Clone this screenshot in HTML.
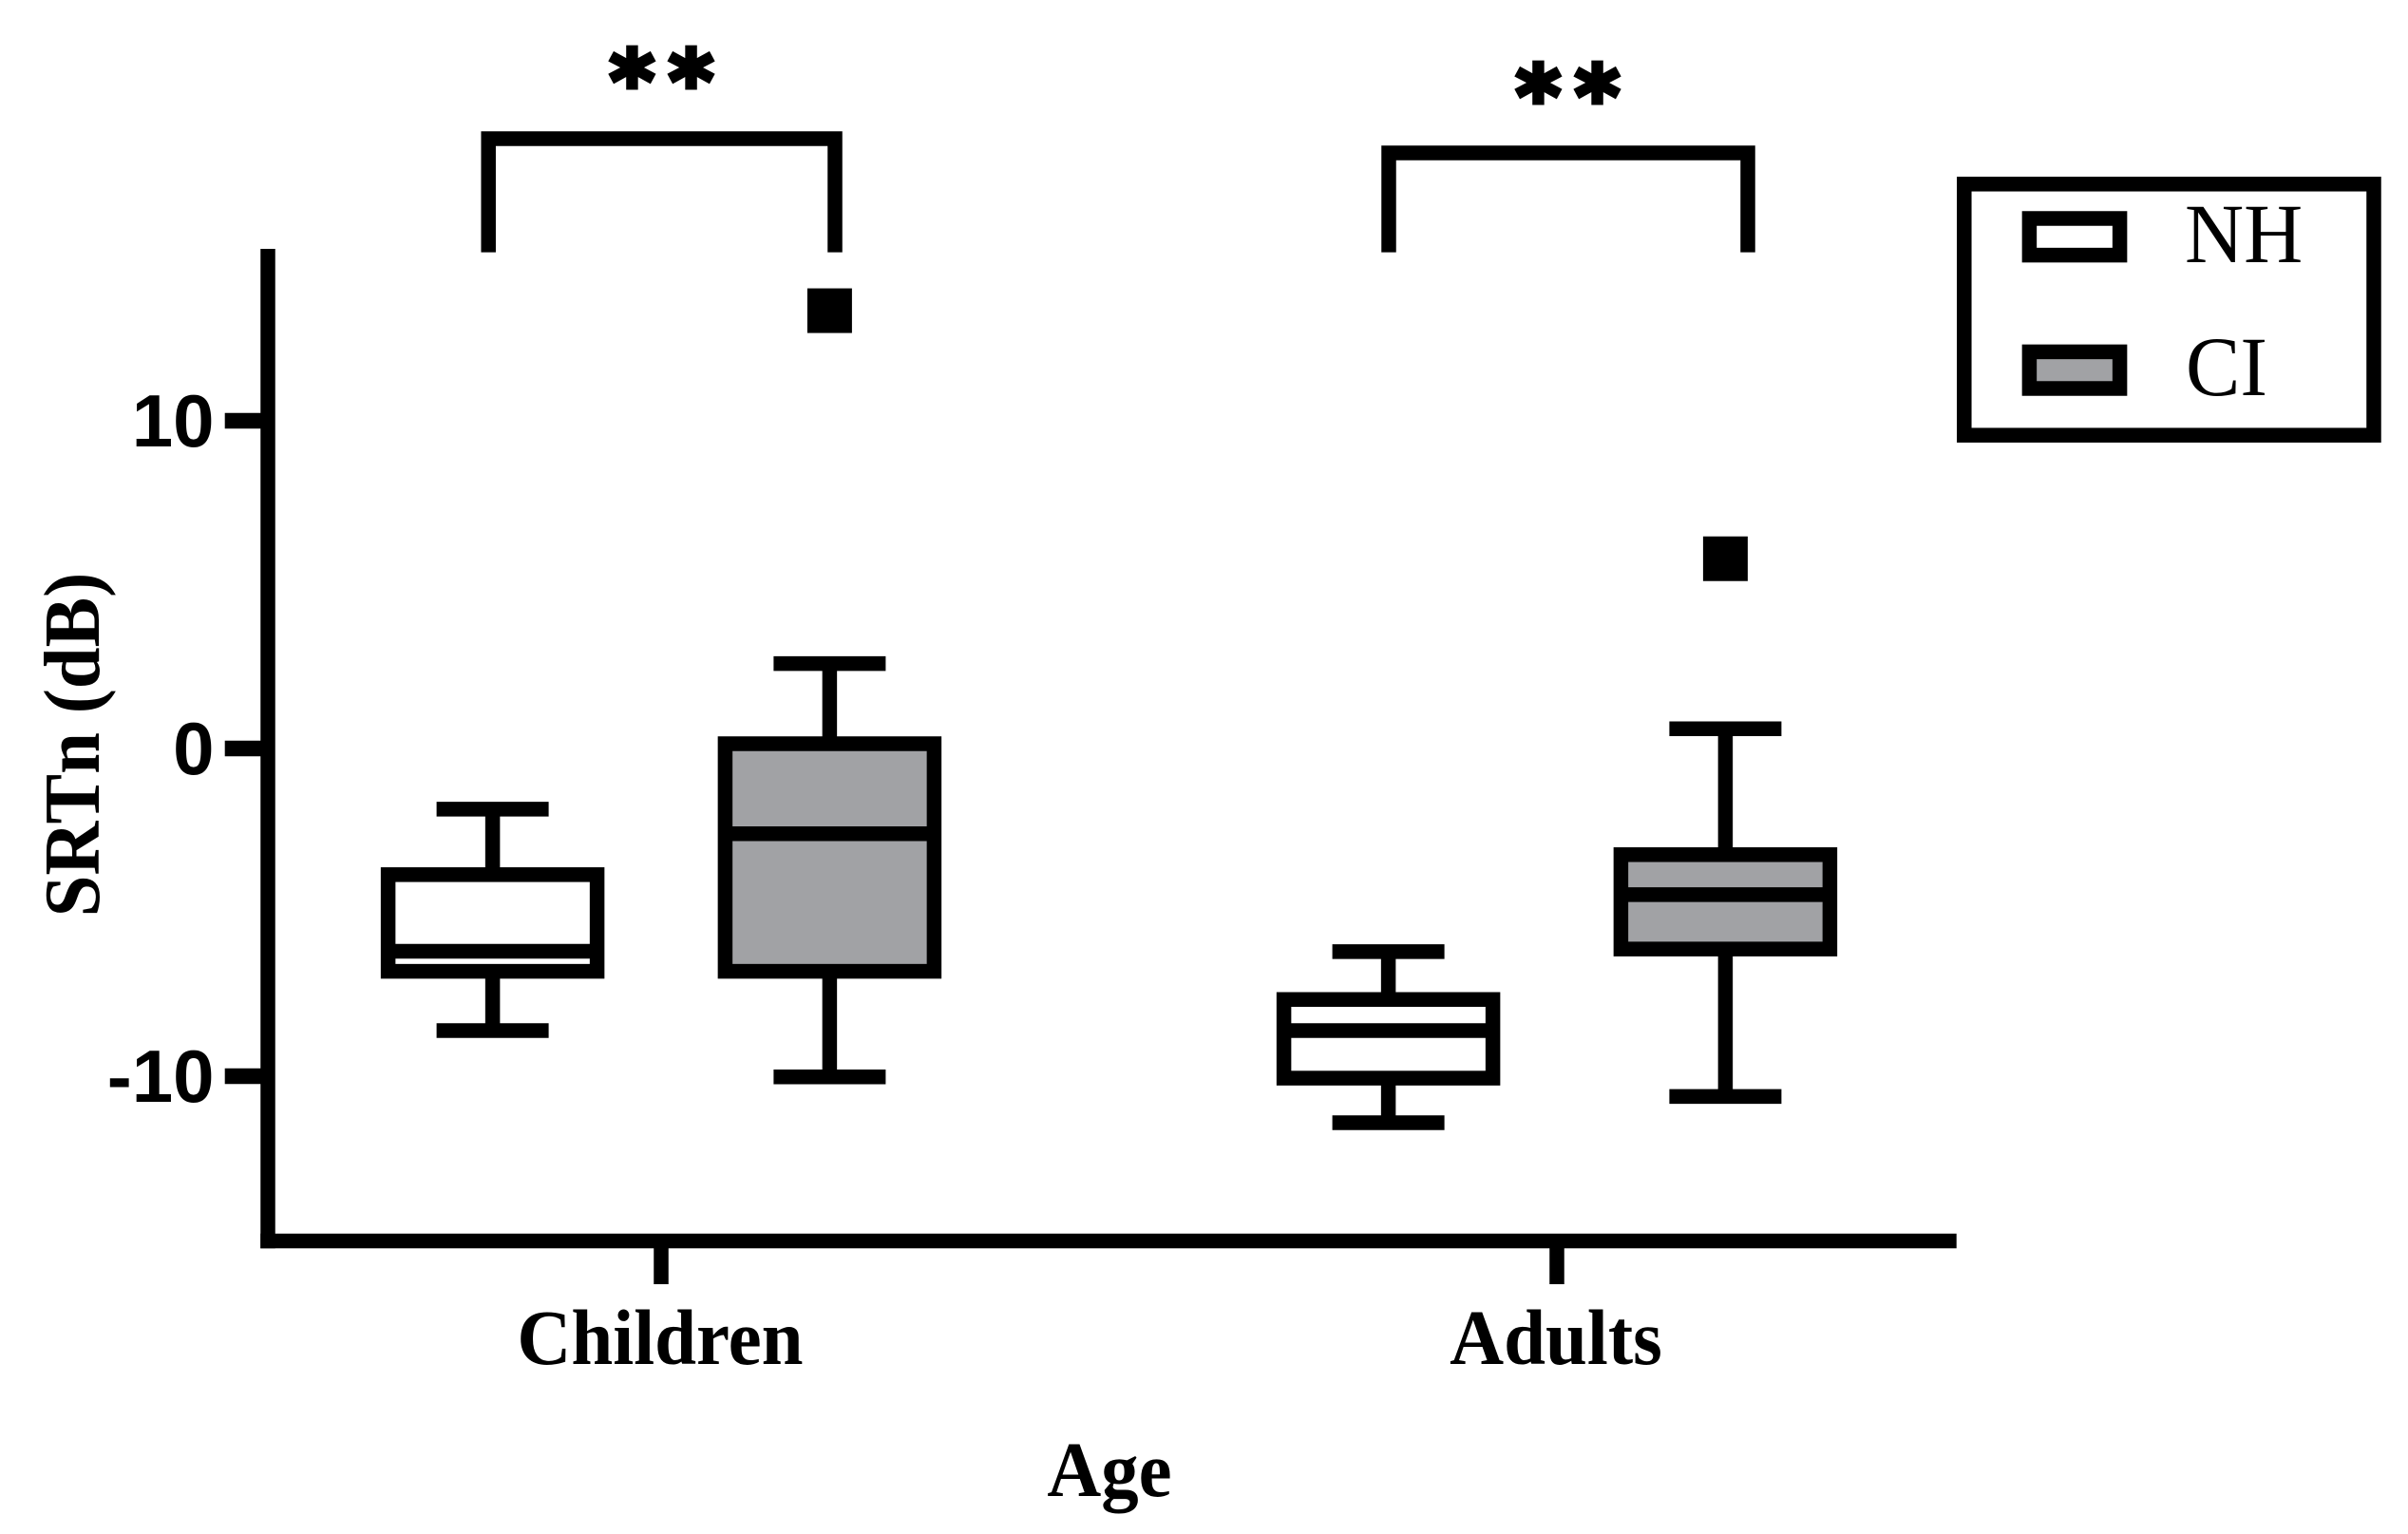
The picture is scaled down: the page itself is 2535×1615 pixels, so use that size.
<!DOCTYPE html>
<html lang="en">
<head>
<meta charset="utf-8">
<title>SRTn by age and hearing group</title>
<style>
html,body{margin:0;padding:0;background:#fff;}
svg{display:block;}
.serif{font-family:"Liberation Serif",serif;}
.sans{font-family:"Liberation Sans",sans-serif;}
.stars{font-family:"DejaVu Sans",sans-serif;letter-spacing:15px;stroke:#000;stroke-width:5px;}
</style>
</head>
<body>
<svg id="chart" xmlns="http://www.w3.org/2000/svg" width="2535" height="1615" viewBox="0 0 2535 1615">
  <rect x="0" y="0" width="2535" height="1615" fill="#fff"/>
  <g id="marks"></g>
  <g id="axes"></g>

  <text class="serif" font-weight="700" font-size="78" text-anchor="middle" transform="translate(104 784) rotate(-90) scale(1.01 1.07)">SRTn (dB)</text>
  <text class="serif" font-weight="700" font-size="78" text-anchor="middle" transform="translate(1168 1575) scale(1.01 1.06)">Age</text>

  <g>
    <path d="M514.2 265.6V146H879V265.6" fill="none" stroke="#000" stroke-width="15.5"/>
    <text class="stars" font-weight="700" font-size="90" text-anchor="middle" x="704" y="117">**</text>
  </g>
  <g>
    <path d="M1462 265.6V161H1840V265.6" fill="none" stroke="#000" stroke-width="15.5"/>
    <text class="stars" font-weight="700" font-size="90" text-anchor="middle" x="1658" y="133">**</text>
  </g>

  <g>
    <rect x="2067.8" y="193.8" width="431.2" height="264.4" fill="#fff" stroke="#000" stroke-width="15.5"/>
    <rect x="2136.4" y="230" width="95.2" height="38.6" fill="#fff" stroke="#000" stroke-width="15.5"/>
    <text class="serif" font-size="86" transform="translate(2300 276) scale(1 1.03)">NH</text>
    <rect x="2136.4" y="370.4" width="95.2" height="38.6" fill="#a1a2a5" stroke="#000" stroke-width="15.5"/>
    <text class="serif" font-size="86" transform="translate(2301 416) scale(1 1.03)">CI</text>
  </g>
</svg>
<script>
const categories = ['Children', 'Adults'];
const groups = ['NH', 'CI'];
const yTickValues = [10, 0, -10];
const yTickLabels = ['10', '0', '-10'];
const whiskerHigh = [[-1.85, 2.59], [-6.20, 0.60]];
const boxTop = [[-3.85, 0.145], [-7.66, -3.24]];
const medians = [[-6.19, -2.60], [-8.61, -4.46]];
const boxBottom = [[-6.80, -6.80], [-10.06, -6.12]];
const whiskerLow = [[-8.61, -10.02], [-11.42, -10.62]];
const outliers = [[null, 13.36], [null, 5.79]];

const NS = 'http://www.w3.org/2000/svg';
const STROKE = 15.5;
const GREY = '#a1a2a5';
const yScale = function (v) { return 788 - 34.5 * v; };
const xScale = function (i) { return 696 + 943 * i; };
const groupOffset = function (j) { return (j === 0 ? -1 : 1) * 177.4; };
const marks = document.getElementById('marks');
const axes = document.getElementById('axes');

function make(tag, attrs, parent) {
  const el = document.createElementNS(NS, tag);
  Object.keys(attrs).forEach(function (k) { el.setAttribute(k, attrs[k]); });
  parent.appendChild(el);
  return el;
}
function line(x1, y1, x2, y2, parent) {
  return make('line', { x1: x1, y1: y1, x2: x2, y2: y2, stroke: '#000', 'stroke-width': STROKE }, parent);
}

categories.forEach(function (cat, i) {
  groups.forEach(function (grp, j) {
    const key = cat.toLowerCase() + '-' + grp.toLowerCase();
    const cx = xScale(i) + groupOffset(j);
    const g = make('g', {}, marks);
    
    

    const stem = line(cx, yScale(whiskerHigh[i][j]), cx, yScale(whiskerLow[i][j]), g);
    
    

    const capHigh = line(cx - 59, yScale(whiskerHigh[i][j]), cx + 59, yScale(whiskerHigh[i][j]), g);
    
    

    const capLow = line(cx - 59, yScale(whiskerLow[i][j]), cx + 59, yScale(whiskerLow[i][j]), g);
    
    

    const box = make('rect', {
      x: cx - 110,
      y: yScale(boxTop[i][j]),
      width: 220,
      height: yScale(boxBottom[i][j]) - yScale(boxTop[i][j]),
      fill: j === 0 ? '#fff' : GREY,
      stroke: '#000',
      'stroke-width': STROKE
    }, g);
    
    

    const med = line(cx - 110, yScale(medians[i][j]), cx + 110, yScale(medians[i][j]), g);
    
    

    if (outliers[i][j] !== null) {
      const out = make('rect', {
        x: cx - 23.5,
        y: yScale(outliers[i][j]) - 23.5,
        width: 47,
        height: 47,
        fill: '#000'
      }, g);
      
      
    }
  });
});

const yAxisLine = line(282, 262, 282, 1314.2, axes);



const xAxisLine = line(274.2, 1306.5, 2059.7, 1306.5, axes);



yTickValues.forEach(function (v, k) {
  const tick = make('line', { x1: 236.7, y1: yScale(v), x2: 282, y2: yScale(v), stroke: '#000', 'stroke-width': 16.5 }, axes);
  
  

  const label = make('text', {
    x: 225.5,
    y: yScale(v) + 27,
    'text-anchor': 'end',
    'font-size': 78,
    'font-weight': 700,
    class: 'sans'
  }, axes);
  label.textContent = yTickLabels[k];
  
  
});

categories.forEach(function (cat, i) {
  const tick = line(xScale(i), 1306.5, xScale(i), 1352, axes);
  
  

  const label = make('text', {
    transform: 'translate(' + (xScale(i) - 1) + ' 1436) scale(1.012 1.06)',
    'text-anchor': 'middle',
    'font-size': 78,
    'font-weight': 700,
    class: 'serif'
  }, axes);
  label.textContent = cat;
  
  
});
</script>
</body>
</html>
